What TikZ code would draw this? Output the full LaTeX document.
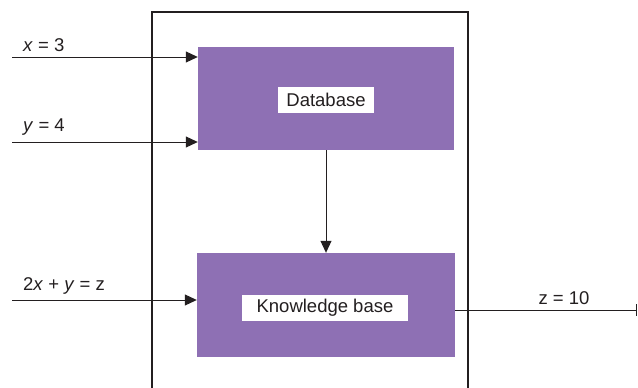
\documentclass[tikz,border=0pt]{standalone}
\usepackage{fontspec}
\setmainfont{Liberation Sans}
\usetikzlibrary{arrows.meta}

\definecolor{blockpurple}{RGB}{142,112,180}
\definecolor{wire}{RGB}{35,31,32}

\tikzset{
    block/.style={fill=blockpurple, draw=none, inner sep=0pt},
    tag/.style={fill=white, inner xsep=4pt, inner ysep=3pt, minimum height=26},
    link/.style={draw=wire, line width=1pt, -{Triangle[length=12,width=11]}}
}

\begin{document}
\begin{tikzpicture}[x=1pt, y=-1pt, font=\fontsize{18.5}{22}\selectfont, text=wire]

        % --- Area della figura ---
        \useasboundingbox (0,0) rectangle (638,388);
        \clip (0,0) rectangle (638,388);

        % --- Riquadro esterno (aperto in basso) ---
        \draw[wire, line width=1.3pt] (152,400) -- (152,12) -- (468,12) -- (468,400);

        % --- Blocchi ---
        \node[block, minimum width=256, minimum height=103] (db) at (326,98.5) {};
        \node[block, minimum width=258, minimum height=104] (kb) at (326,305) {};

        \node[tag, minimum width=96] (dbtag) at (326,100) {Database};
        \node[tag, minimum width=166] (kbtag) at (325,308) {Knowledge base};

        % --- Ingressi ---
        \coordinate (inx) at (12,57);
        \coordinate (iny) at (12,142);
        \coordinate (inz) at (12,300);

        \draw[link] (inx) -- (inx -| db.west);
        \draw[link] (iny) -- (iny -| db.west);
        \draw[link] (inz) -- (inz -| kb.west);

        \node[anchor=south west, inner sep=0pt] (lblx) at (23,52) {\textit{x} = 3};
        \node[anchor=south west, inner sep=0pt] (lbly) at (23,136) {\textit{y} = 4};
        \node[anchor=south west, inner sep=0pt] (lblz) at (23,295) {2\textit{x} + \textit{y} = z};

        % --- Database -> Knowledge base ---
        \draw[link] (db.south) -- (kb.north);

        % --- Uscita ---
        \coordinate (out) at (637,310);
        \draw[draw=wire, line width=1pt, -{Bar[width=12]}] (out -| kb.east) -- (out);
        \node[anchor=south, inner sep=0pt] (lblout) at (564,305) {z = 10};

\end{tikzpicture}
\end{document}
